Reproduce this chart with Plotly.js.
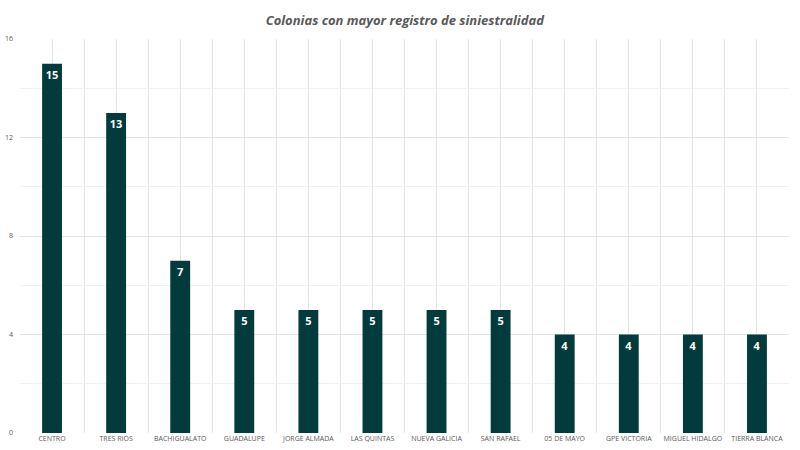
<!DOCTYPE html>
<html>
<head>
<meta charset="utf-8">
<script src="https://cdn.plot.ly/plotly-3.0.1.min.js"></script>
<style>html,body{margin:0;padding:0;background:#fff}#chart{width:800px;height:450px}</style>
</head>
<body>
<div id="chart"></div>
<script>
const categories = ["CENTRO","TRES RIOS","BACHIGUALATO","GUADALUPE","JORGE ALMADA","LAS QUINTAS","NUEVA GALICIA","SAN RAFAEL","05 DE MAYO","GPE VICTORIA","MIGUEL HIDALGO","TIERRA BLANCA"];
const values = [15,13,7,5,5,5,5,5,4,4,4,4];
const yTicks = [0,4,8,12,16];

const xIdx = categories.map((c,i)=>i);

const trace = {
  type: 'bar',
  x: xIdx,
  y: values,
  width: 0.31,
  marker: {color: '#023b3b'},
  text: values.map(String),
  textposition: 'inside',
  insidetextanchor: 'end',
  textangle: 0,
  textfont: {color: '#ffffff', size: 11, family: 'Open Sans, sans-serif', weight: 'bold'},
  cliponaxis: false,
  hoverinfo: 'none'
};

const layout = {
  width: 800, height: 450,
  margin: {l: 20, r: 11, t: 39, b: 17},
  paper_bgcolor: '#ffffff',
  plot_bgcolor: '#ffffff',
  showlegend: false,
  title: {
    text: '<b><i>Colonias con mayor registro de siniestralidad</i></b>',
    font: {family: 'Open Sans, sans-serif', size: 13, color: '#595959'},
    x: 0.506, xanchor: 'center', y: 0.955, yanchor: 'middle'
  },
  xaxis: {
    range: [-0.5, categories.length - 0.5],
    tickvals: xIdx,
    ticktext: categories,
    tickfont: {family: 'Open Sans, sans-serif', size: 7, color: '#595959'},
    showgrid: true, gridcolor: '#e4e4e4', gridwidth: 1,
    minor: {dtick: 0.5, tick0: -0.5, showgrid: true, gridcolor: '#e4e4e4', gridwidth: 1},
    zeroline: false, showline: false, ticks: '', ticklen: 0,
    fixedrange: true
  },
  yaxis: {
    range: [0, 16],
    tickvals: yTicks,
    ticktext: yTicks.map(String),
    tickfont: {family: 'Open Sans, sans-serif', size: 7, color: '#595959'},
    showgrid: true, gridcolor: '#e4e4e4', gridwidth: 1,
    minor: {dtick: 2, tick0: 0, showgrid: true, gridcolor: '#f2f2f2', gridwidth: 1},
    zeroline: false, showline: false, ticks: '',
    ticklabelstandoff: 6,
    fixedrange: true
  },
  bargap: 0.69
};

Plotly.newPlot('chart', [trace], layout, {displayModeBar: false, staticPlot: true});
</script>
</body>
</html>
